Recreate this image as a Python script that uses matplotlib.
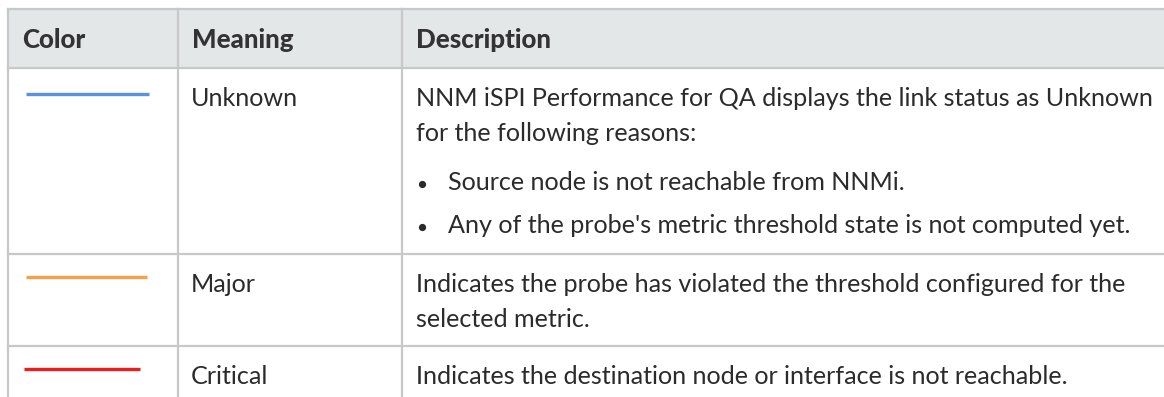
import matplotlib.pyplot as plt
from matplotlib.patches import Rectangle

# table content
headers = ['Color', 'Meaning', 'Description']
line_colors = ['#5b8fe0', '#f7a04b', '#f01c1c']
meanings = ['Unknown', 'Major', 'Critical']
descriptions = [
    ['NNM iSPI Performance for QA displays the link status as Unknown',
     'for the following reasons:'],
    ['Indicates the probe has violated the threshold configured for the',
     'selected metric.'],
    ['Indicates the destination node or interface is not reachable.'],
]
bullets = [
    ['Source node is not reachable from NNMi.',
     "Any of the probe's metric threshold state is not computed yet."],
    [],
    [],
]

W, H = 1164, 397
border = '#c8c8c8'
text_col = '#2b2b2b'
plt.rcParams['font.family'] = ['Lato', 'DejaVu Sans']

fig = plt.figure(figsize=(W / 100, H / 100), dpi=100)
ax = fig.add_axes([0, 0, 1, 1])
ax.set_xlim(0, W)
ax.set_ylim(H, 0)
ax.axis('off')

# layout (pixels)
left, top, head_bottom = 8, 9, 68
col_x = [8, 178, 402]
row_tops = [68, 254, 346]
fs = 18.1
line_gap = 35

# header
ax.add_patch(Rectangle((left, top), W - left + 5, head_bottom - top,
                       facecolor='#e4e7e8', edgecolor='none', zorder=0))
for i, h in enumerate(headers):
    ax.text(col_x[i] + 14, 48.5, h, fontsize=18.6, fontweight='black',
            color='#333333', va='baseline')

# grid lines
lw = 1.6
ax.plot([left, W + 5], [top, top], color=border, lw=lw)
for y in row_tops:
    ax.plot([left, W + 5], [y, y], color=border, lw=lw)
for x in col_x:
    ax.plot([x, x], [top, H + 5], color=border, lw=lw)

# rows
base = [106, 292.3, 384]
line_y = [94.3, 277.3, 368.7]
line_x = [(26, 149), (26, 147), (24, 140)]
for r in range(3):
    ax.plot(line_x[r], [line_y[r], line_y[r]], color=line_colors[r], lw=2.4,
            solid_capstyle='butt')
    ax.text(col_x[1] + 13, base[r], meanings[r], fontsize=fs, color=text_col,
            va='baseline')
    y = base[r]
    for ln in descriptions[r]:
        ax.text(416, y, ln, fontsize=fs, color=text_col, va='baseline')
        y += line_gap
    yb = [190, 233.3]
    for k, b in enumerate(bullets[r]):
        ax.plot(421.7, yb[k] - 6, 'o', color=text_col, ms=4.2)
        ax.text(448, yb[k], b, fontsize=fs, color=text_col, va='baseline')

fig.savefig('out.png', dpi=100)
